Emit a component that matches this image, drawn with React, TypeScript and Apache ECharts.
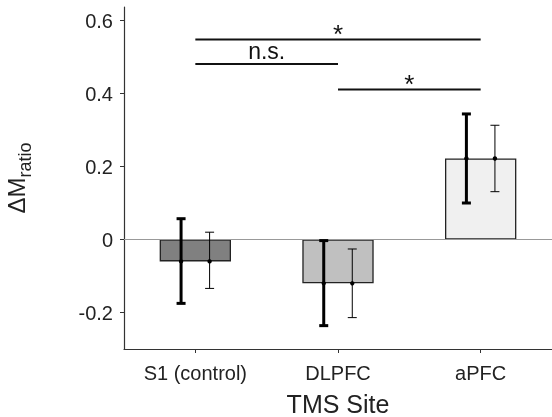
import React, { useEffect, useRef } from "react";
import * as echarts from "echarts";

const categories = ["S1 (control)", "DLPFC", "aPFC"];
const barMeans = [-0.06, -0.12, 0.222];
const barColors = ["#808080", "#c0c0c0", "#f0f0f0"];
// thick error bars: [low, high]
const thickLow = [-0.175, -0.236, 0.1];
const thickHigh = [0.057, -0.003, 0.344];
// thin error bars: [low, high]
const thinLow = [-0.134, -0.214, 0.131];
const thinHigh = [0.02, -0.026, 0.313];
const yTicks = [-0.2, 0, 0.2, 0.4, 0.6];
// significance brackets
const bracketFrom = [0, 0, 1];
const bracketTo = [2, 1, 2];
const bracketY = [0.548, 0.481, 0.411];
const bracketLabels = ["*", "n.s.", "*"];

const FONT = "Liberation Sans, Arial, Helvetica, sans-serif";

export default function App() {
  const ref = useRef<HTMLDivElement>(null);
  useEffect(() => {
    if (!ref.current) return;
    const chart = echarts.init(ref.current, null, { renderer: "svg" });

    const errSeries = (low: number[], high: number[], offset: number, lw: number) => ({
      type: "custom",
      z: 5,
      silent: true,
      data: categories.map((_, i) => [i, low[i], high[i], barMeans[i]]),
      renderItem: (params: any, api: any) => {
        const idx = api.value(0);
        const bw = api.size([1, 0])[0];
        const pLo = api.coord([idx, api.value(1)]);
        const pHi = api.coord([idx, api.value(2)]);
        const pM = api.coord([idx, api.value(3)]);
        const x = pLo[0] + offset * bw;
        const cap = 4.5;
        const st = { stroke: "#000", lineWidth: lw };
        return {
          type: "group",
          children: [
            { type: "line", shape: { x1: x, y1: pLo[1], x2: x, y2: pHi[1] }, style: st },
            { type: "line", shape: { x1: x - cap, y1: pLo[1], x2: x + cap, y2: pLo[1] }, style: st },
            { type: "line", shape: { x1: x - cap, y1: pHi[1], x2: x + cap, y2: pHi[1] }, style: st },
            { type: "circle", shape: { cx: x, cy: pM[1], r: 2.2 }, style: { fill: "#000" } },
          ],
        };
      },
    });

    const option: any = {
      animation: false,
      grid: { left: 124, right: 0, top: 7, bottom: 68, outerBoundsMode: "none", containLabel: false },
      xAxis: {
        type: "category",
        data: categories,
        boundaryGap: true,
        axisLine: { show: true, onZero: false, lineStyle: { color: "#333", width: 1.2 } },
        axisTick: { show: true, alignWithLabel: true, length: 4, lineStyle: { color: "#333" } },
        axisLabel: { fontSize: 20, color: "#222", fontFamily: FONT, margin: 14 },
        name: "TMS Site",
        nameLocation: "middle",
        nameGap: 42,
        nameTextStyle: { fontSize: 25, color: "#222", fontFamily: FONT },
      },
      yAxis: {
        type: "value",
        min: -0.3,
        max: 0.637,
        splitLine: { show: false },
        axisLine: { show: true, lineStyle: { color: "#333", width: 1.2 } },
        axisTick: { show: true, length: 4, customValues: yTicks, lineStyle: { color: "#333" } },
        axisLabel: {
          fontSize: 20,
          color: "#222",
          fontFamily: FONT,
          margin: 11,
          customValues: yTicks,
          formatter: (v: number) => (Math.abs(v) < 1e-9 ? "0" : String(Math.round(v * 10) / 10)),
        },
        name: "{a|ΔM}{b|ratio}",
        nameLocation: "middle",
        nameGap: 90,
        nameRotate: 90,
        nameTextStyle: {
          color: "#222",
          fontFamily: FONT,
          rich: {
            a: { fontSize: 24, fontFamily: FONT, color: "#222", verticalAlign: "bottom", lineHeight: 26, padding: [0, 0, 6, 0] },
            b: { fontSize: 18, fontFamily: FONT, color: "#222", verticalAlign: "bottom", lineHeight: 20 },
          },
        },
      },
      series: [
        {
          type: "bar",
          barWidth: "50%",
          data: barMeans.map((v, i) => ({
            value: v,
            itemStyle: { color: barColors[i], borderColor: "#222", borderWidth: 1.3 },
          })),
          markLine: {
            silent: true,
            symbol: "none",
            label: { show: false },
            lineStyle: { color: "#999", width: 1, type: "solid" },
            data: [{ yAxis: 0 }],
          },
        },
        errSeries(thickLow, thickHigh, -0.1, 3),
        errSeries(thinLow, thinHigh, 0.1, 1),
        {
          type: "custom",
          silent: true,
          z: 6,
          data: bracketY.map((y, i) => [bracketFrom[i], bracketTo[i], y]),
          renderItem: (params: any, api: any) => {
            const i = params.dataIndex;
            const p1 = api.coord([api.value(0), api.value(2)]);
            const p2 = api.coord([api.value(1), api.value(2)]);
            const label = bracketLabels[i];
            const isStar = label === "*";
            return {
              type: "group",
              children: [
                {
                  type: "line",
                  shape: { x1: p1[0], y1: p1[1], x2: p2[0], y2: p2[1] },
                  style: { stroke: "#111", lineWidth: 2 },
                },
                {
                  type: "text",
                  x: (p1[0] + p2[0]) / 2,
                  y: isStar ? p1[1] + 8 : p1[1] - 1,
                  style: {
                    text: label,
                    fontSize: isStar ? 26 : 23,
                    fontFamily: FONT,
                    fill: "#111",
                    align: "center",
                    verticalAlign: "bottom",
                  },
                },
              ],
            };
          },
        },
      ],
    };
    chart.setOption(option);
    return () => chart.dispose();
  }, []);
  return <div ref={ref} style={{ position: "fixed", left: 0, top: 0, width: 552, height: 417 }} />;
}
